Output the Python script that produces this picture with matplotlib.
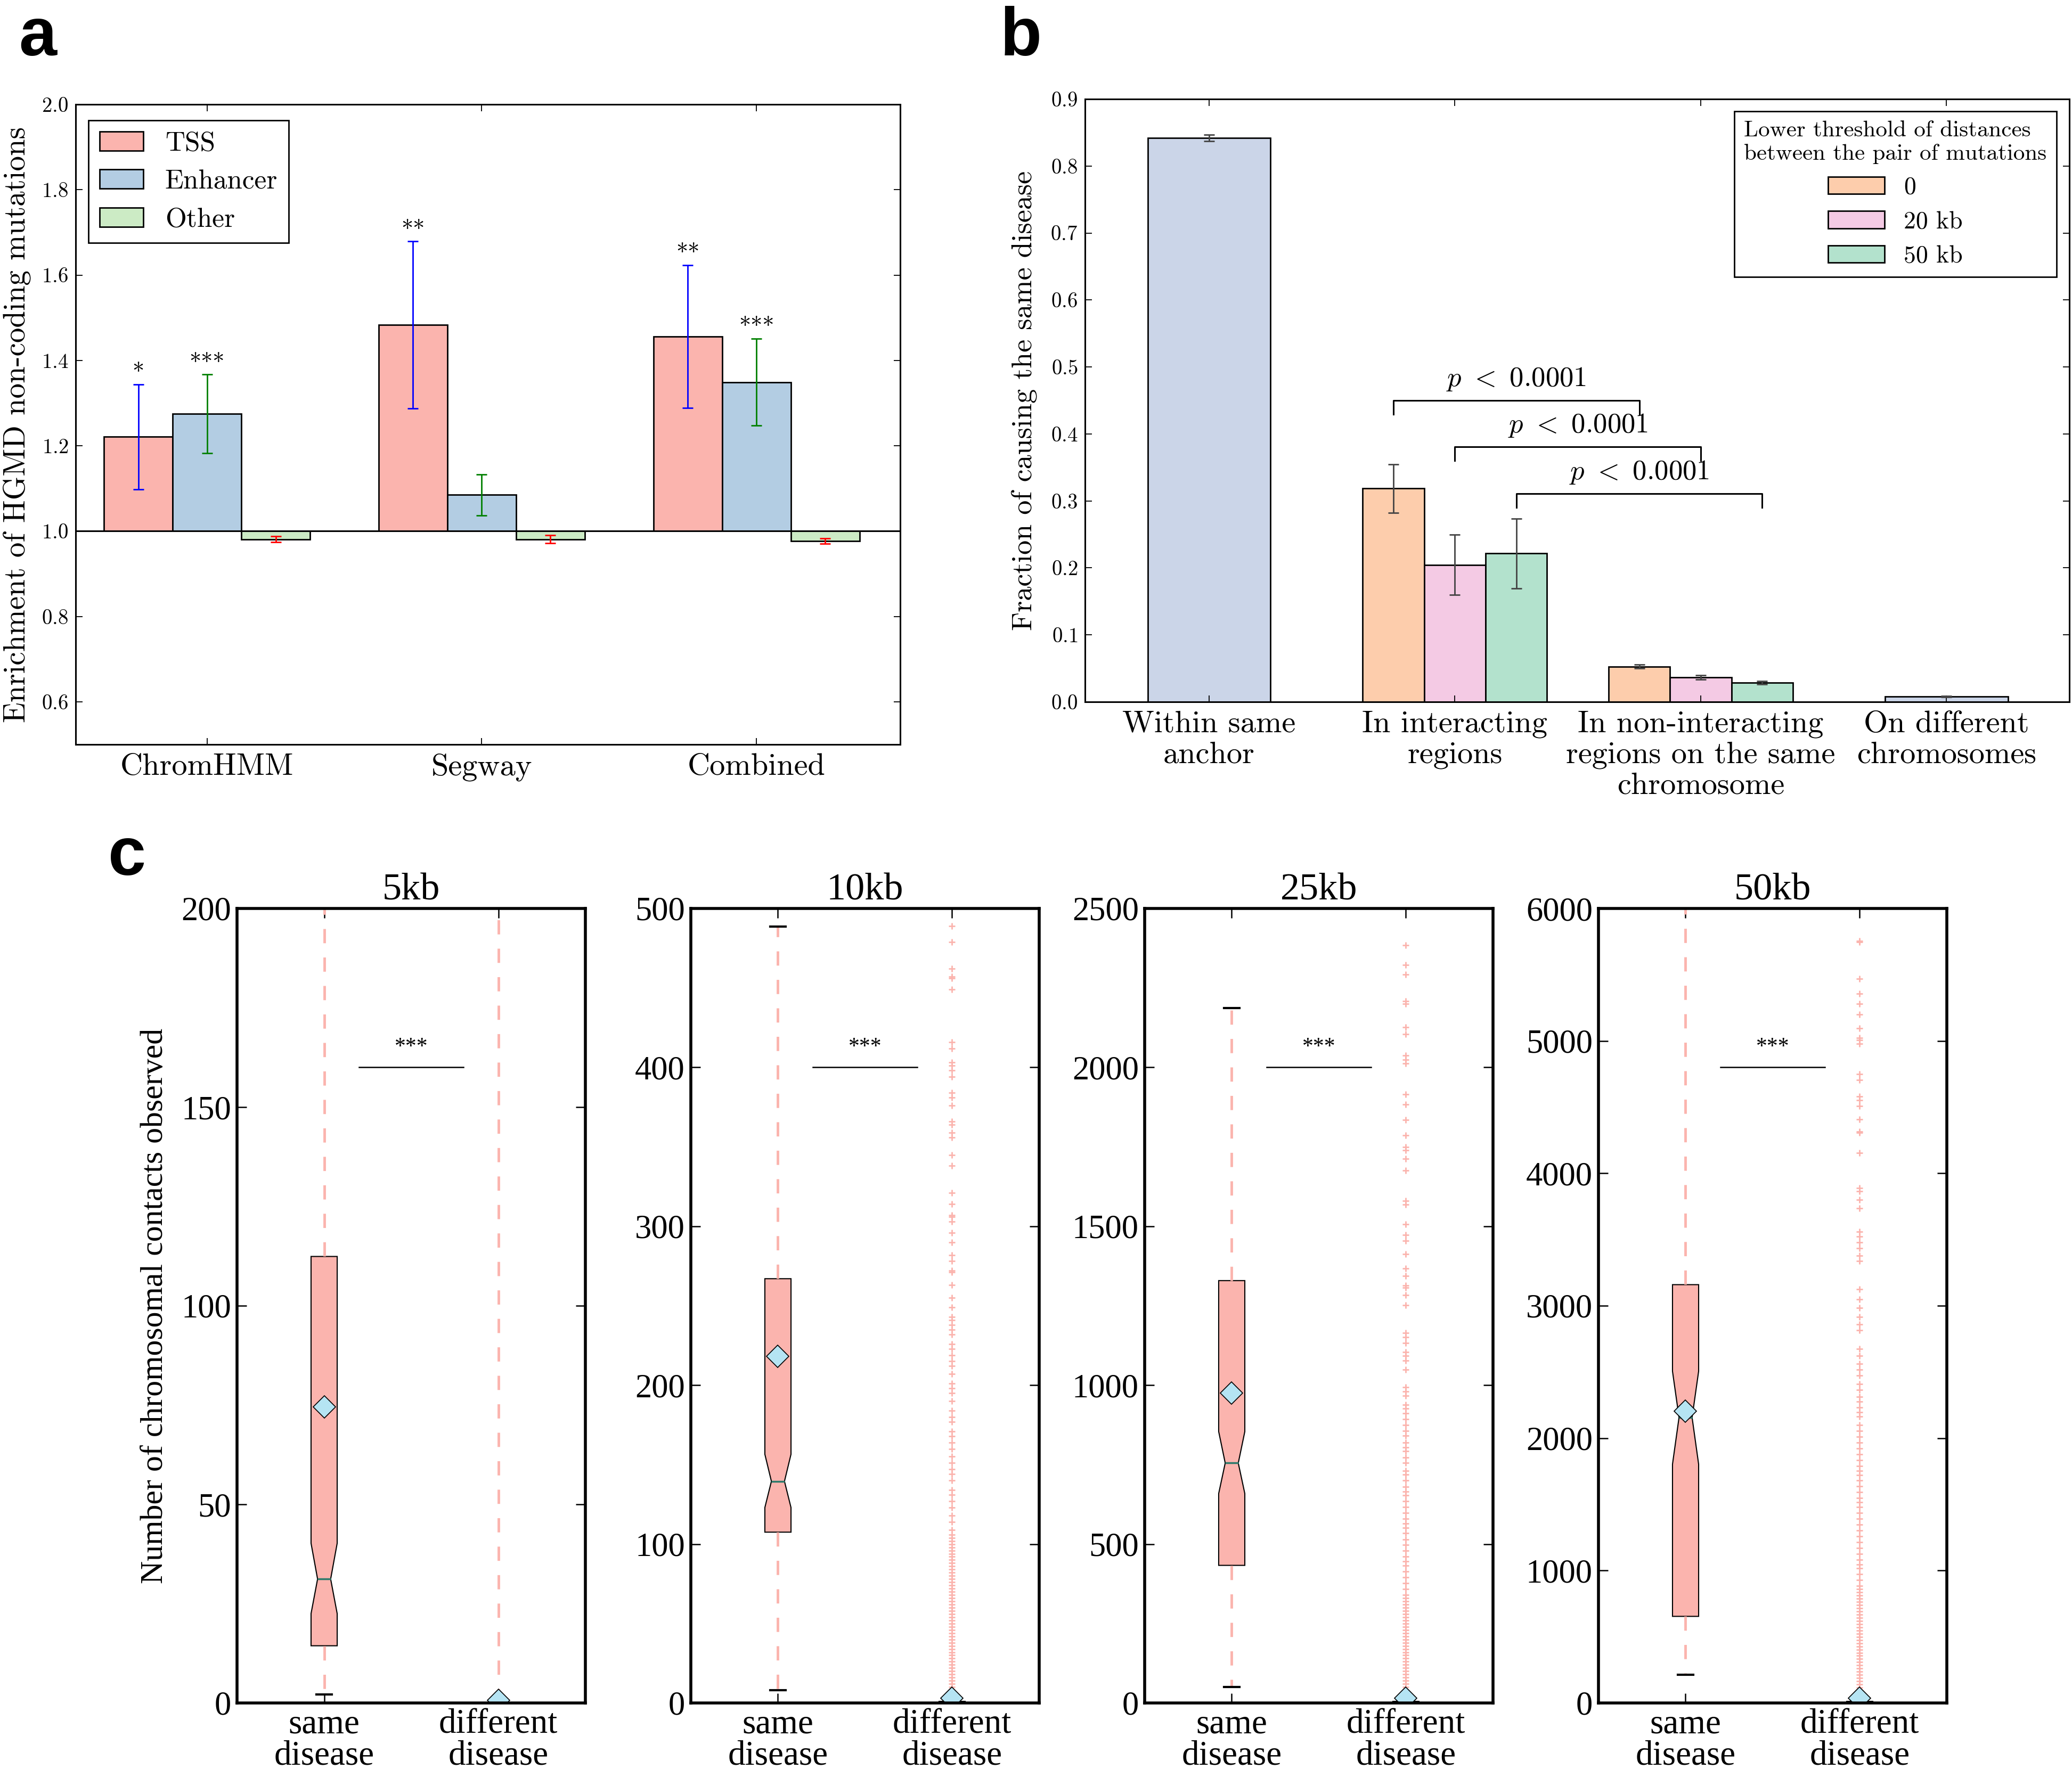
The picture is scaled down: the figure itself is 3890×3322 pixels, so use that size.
import matplotlib
matplotlib.use('Agg')
import matplotlib.pyplot as plt
import numpy as np

plt.rcParams['font.family'] = 'cmr10'
plt.rcParams['mathtext.fontset'] = 'cm'
plt.rcParams['axes.formatter.use_mathtext'] = True
plt.rcParams['axes.unicode_minus'] = False

# ---- panel a data
groups_a = ['ChromHMM', 'Segway', 'Combined']
tss = [1.221, 1.483, 1.456]
tss_err = [0.123, 0.196, 0.167]
enh = [1.275, 1.085, 1.349]
enh_err = [0.092, 0.048, 0.102]
oth = [0.981, 0.981, 0.977]
oth_err = [0.0065, 0.009, 0.006]
stars_tss = ['*', '**', '**']
stars_enh = ['***', '', '***']

# ---- panel b data
groups_b = ['Within same\nanchor', 'In interacting\nregions',
            'In non-interacting\nregions on the same\nchromosome',
            'On different\nchromosomes']
single_vals = [0.842, 0.0078]
single_err = [0.005, 0.0006]
thr_labels = ['0', '20 kb', '50 kb']
thr_vals = [[0.3186, 0.0527], [0.2047, 0.0364], [0.2217, 0.0287]]
thr_err = [[0.036, 0.003], [0.045, 0.003], [0.052, 0.0027]]
brackets = [(0.75, 1.75, 0.450), (1.0, 2.0, 0.381), (1.25, 2.25, 0.311)]

# ---- panel c data
res = ['5kb', '10kb', '25kb', '50kb']
ymax_c = [200, 500, 2500, 6000]
ystep_c = [50, 100, 500, 1000]
same_q1 = [14.4, 107.5, 433, 654]
same_q3 = [112.4, 267, 1329, 3159]
same_med = [31.2, 139.5, 755, 2156]
same_cilo = [22.5, 123, 659, 1803]
same_cihi = [40.2, 156.5, 854, 2505]
same_lo = [2.1, 8, 50, 212]
same_hi = [240, 488.6, 2187, 6400]
same_mean = [74.5, 218, 976, 2205]
diff_med = [0, 0, 0, 0]
diff_q3 = [0, 1, 5, 12]
diff_hi = [240, 2, 8, 20]
diff_mean = [0.7, 3, 15, 35]
sig_y = [160, 400, 2000, 4800]
fl10 = [489, 479, 462, 457, 456, 449, 416, 412, 403, 401, 398, 394, 384, 381,
        376, 366, 364, 359, 356, 345, 338, 321, 314, 307, 306, 303, 296, 290,
        282, 278, 272, 271, 263, 255, 249, 243, 241, 238, 235, 232, 226, 223,
        219, 215, 212, 207, 201, 198, 195, 190, 184, 180, 177, 171, 168, 164,
        160, 155, 151, 147, 144, 140, 134, 131, 127, 123, 118, 114, 109, 106,
        104, 102, 100, 98, 96, 94, 92, 90, 88, 86, 84, 82, 80, 78, 76, 74, 72,
        70, 68, 66, 64, 62, 60, 58, 56, 54, 52, 50, 48, 46, 44, 42, 40, 38, 36,
        34, 32, 30, 28, 26, 24, 22, 20, 18, 16, 14, 12, 10, 8, 6, 4]
fl25 = [2384, 2323, 2292, 2209, 2200, 2126, 2104, 2037, 2024, 2012, 1915, 1883,
        1835, 1786, 1749, 1740, 1712, 1675, 1580, 1569, 1506, 1473, 1454, 1412,
        1368, 1344, 1313, 1307, 1283, 1252, 1165, 1151, 1132, 1105, 1092, 1077,
        1049, 994, 981, 967, 939, 926, 911, 893, 874, 856, 841, 819, 804, 792,
        773, 755, 731, 718, 700, 681, 666, 654, 635, 617, 598, 580, 565, 552,
        534, 515, 497, 479, 460, 445, 433, 414, 396, 377, 359, 340, 330, 320,
        310, 300, 290, 280, 270, 260, 250, 240, 230, 220, 210, 200, 190, 180,
        170, 160, 150, 140, 130, 120, 110, 100, 90, 80, 70, 60, 50, 40, 30, 20]
fl50 = [5754, 5745, 5471, 5356, 5281, 5201, 5095, 5024, 5007, 4980, 4750, 4706,
        4582, 4551, 4507, 4406, 4317, 4308, 4154, 3889, 3866, 3800, 3734, 3557,
        3522, 3478, 3433, 3380, 3336, 3124, 3049, 2983, 2916, 2859, 2815, 2673,
        2620, 2563, 2519, 2475, 2408, 2364, 2311, 2276, 2231, 2196, 2165, 2099,
        2055, 2011, 1966, 1922, 1878, 1834, 1790, 1754, 1723, 1679, 1635, 1591,
        1547, 1516, 1480, 1436, 1392, 1348, 1304, 1259, 1215, 1171, 1127, 1083,
        1047, 1017, 972, 928, 884, 860, 836, 812, 788, 764, 740, 716, 692, 668,
        644, 620, 596, 572, 548, 524, 500, 476, 452, 428, 404, 380, 356, 332,
        308, 284, 260, 236, 212, 188, 164, 140, 116, 92, 68, 44]
diff_fliers = [[], fl10, fl25, fl50]

W, H = 3891, 3322
fig = plt.figure(figsize=(W / 100, H / 100), dpi=100)


def rect(l, t, r, b):
    return [l / W, 1 - b / H, (r - l) / W, (b - t) / H]


def style_ab(ax):
    for s in ax.spines.values():
        s.set_linewidth(2.2)
    ax.tick_params(direction='in', top=True, right=True, length=9, width=1.3,
                   labelsize=28, pad=10)


# ================= panel a
ax1 = fig.add_axes(rect(142, 196, 1690, 1398))
x = np.arange(len(groups_a))
ax1.bar(x - 0.25, [v - 1 for v in tss], 0.25, bottom=1, color='#fbb4ae',
        edgecolor='k', lw=2, label='TSS')
ax1.bar(x, [v - 1 for v in enh], 0.25, bottom=1, color='#b3cde3',
        edgecolor='k', lw=2, label='Enhancer')
ax1.bar(x + 0.25, [v - 1 for v in oth], 0.25, bottom=1, color='#ccebc5',
        edgecolor='k', lw=2, label='Other')
ax1.errorbar(x - 0.25, tss, yerr=tss_err, fmt='none', ecolor='blue',
             elinewidth=2, capsize=7, capthick=2)
ax1.errorbar(x, enh, yerr=enh_err, fmt='none', ecolor='green',
             elinewidth=2, capsize=7, capthick=2)
ax1.errorbar(x + 0.25, oth, yerr=oth_err, fmt='none', ecolor='red',
             elinewidth=2, capsize=7, capthick=2)
ax1.axhline(1.0, color='k', lw=2.2)
for i in range(len(groups_a)):
    ax1.text(x[i] - 0.25, tss[i] + tss_err[i] + 0.012, stars_tss[i],
             ha='center', va='baseline', fontsize=32)
    ax1.text(x[i], enh[i] + enh_err[i] + 0.012, stars_enh[i],
             ha='center', va='baseline', fontsize=32)
ax1.set_xlim(-0.478, 2.523)
ax1.set_ylim(0.5, 2.0)
ax1.set_yticks(np.arange(0.6, 2.01, 0.2))
ax1.set_xticks(x)
ax1.set_xticklabels(groups_a)
style_ab(ax1)
ax1.tick_params(axis='x', labelsize=42, pad=12)
ax1.set_ylabel('Enrichment of HGMD non-coding mutations', fontsize=41,
               labelpad=14)
ax1.legend(loc='upper left', bbox_to_anchor=(0.0155, 0.975), borderaxespad=0,
           fontsize=37, handlelength=1.6, fancybox=False, edgecolor='k',
           framealpha=1).get_frame().set_linewidth(2)

# ================= panel b
ax2 = fig.add_axes(rect(2037, 186, 3885, 1318))
xb = np.arange(len(groups_b))
ax2.bar([xb[0], xb[3]], single_vals, 0.5, color='#cbd5e8', edgecolor='k', lw=2)
ax2.errorbar([xb[0], xb[3]], single_vals, yerr=single_err, fmt='none',
             ecolor='#444444', elinewidth=2, capsize=7, capthick=2)
thr_cols = ['#fdcdac', '#f4cae4', '#b3e2cd']
for k in range(3):
    pos = np.array([xb[1], xb[2]]) + (k - 1) * 0.25
    ax2.bar(pos, thr_vals[k], 0.25, color=thr_cols[k], edgecolor='k', lw=2,
            label=thr_labels[k])
    ax2.errorbar(pos, thr_vals[k], yerr=thr_err[k], fmt='none',
                 ecolor='#444444', elinewidth=2, capsize=7, capthick=2)
for x0, x1, yb in brackets:
    ax2.plot([x0, x0, x1, x1], [yb - 0.021, yb, yb, yb - 0.021], color='k',
             lw=2.2)
    ax2.text((x0 + x1) / 2, yb + 0.012, r'$p\ <\ 0.0001$', ha='center',
             va='bottom', fontsize=38)
ax2.set_xlim(-0.505, 3.5)
ax2.set_ylim(0, 0.9)
ax2.set_yticks(np.arange(0, 0.91, 0.1))
ax2.set_xticks(xb)
ax2.set_xticklabels(groups_b, linespacing=1.15)
style_ab(ax2)
ax2.tick_params(axis='x', labelsize=42, pad=12)
ax2.set_ylabel('Fraction of causing the same disease', fontsize=39,
               labelpad=18)
leg = ax2.legend(loc='upper right', bbox_to_anchor=(0.987, 0.980),
                 borderaxespad=0, fontsize=33, handlelength=2.3,
                 title='Lower threshold of distances\nbetween the pair of mutations',
                 title_fontsize=31, fancybox=False, edgecolor='k',
                 framealpha=1)
leg.get_frame().set_linewidth(2)
leg.get_title().set_multialignment('left')

# ================= panel c
serif = 'Liberation Serif'
lefts_c = [445, 1297, 2149, 3001]
for i in range(4):
    ax = fig.add_axes(rect(lefts_c[i], 1706, lefts_c[i] + 654, 3198))
    stats = [
        dict(med=same_med[i], q1=same_q1[i], q3=same_q3[i],
             whislo=same_lo[i], whishi=same_hi[i], mean=same_mean[i],
             cilo=same_cilo[i], cihi=same_cihi[i], fliers=[]),
        dict(med=diff_med[i], q1=0, q3=diff_q3[i], whislo=0,
             whishi=diff_hi[i], mean=diff_mean[i], cilo=diff_med[i],
             cihi=diff_med[i], fliers=diff_fliers[i]),
    ]
    ax.bxp(stats, positions=[1, 2], widths=0.15, shownotches=True,
           showmeans=True, patch_artist=True, capwidths=0.09,
           boxprops=dict(facecolor='#fbb4ae', edgecolor='k', lw=1.5),
           whiskerprops=dict(color='#fbb4ae', lw=3.5,
                             linestyle=(0, (5.5, 5.5))),
           capprops=dict(color='k', lw=3),
           medianprops=dict(color='#2c7a6b', lw=2.5),
           meanprops=dict(marker='D', markerfacecolor='#b5e4f3',
                          markeredgecolor='k', markeredgewidth=1.2,
                          markersize=21),
           flierprops=dict(marker='+', markeredgecolor='#fbb4ae',
                           markersize=9, markeredgewidth=2))
    ax.plot([1.2, 1.8], [sig_y[i], sig_y[i]], color='k', lw=1.8)
    ax.text(1.5, sig_y[i] + ymax_c[i] * 0.012, '***', ha='center',
            va='bottom', fontsize=30, fontfamily=serif)
    ax.set_xlim(0.5, 2.5)
    ax.set_ylim(0, ymax_c[i])
    yt = list(range(0, ymax_c[i] + 1, ystep_c[i]))
    ax.set_yticks(yt, labels=[str(v) for v in yt], fontfamily=serif,
                  fontsize=45)
    ax.set_xticks([1, 2], labels=['same\ndisease', 'different\ndisease'],
                  fontfamily=serif, fontsize=47, linespacing=0.98)
    for s in ax.spines.values():
        s.set_linewidth(4)
    ax.tick_params(direction='in', top=True, right=True, length=13,
                   width=1.8, pad=8)
    ax.set_title(res[i], fontfamily=serif, fontsize=52, pad=12)
    if i == 0:
        ax.set_ylabel('Number of chromosomal contacts observed',
                      fontfamily=serif, fontsize=43, labelpad=16)

# panel letters
for lab, px, py in [('a', 35, 104), ('b', 1878, 104), ('c', 203, 1643)]:
    fig.text(px / W, 1 - py / H, lab, fontfamily='Liberation Sans',
             fontweight='bold', fontsize=92, va='baseline', ha='left')

fig.savefig('out.png', dpi=100, facecolor='white')
